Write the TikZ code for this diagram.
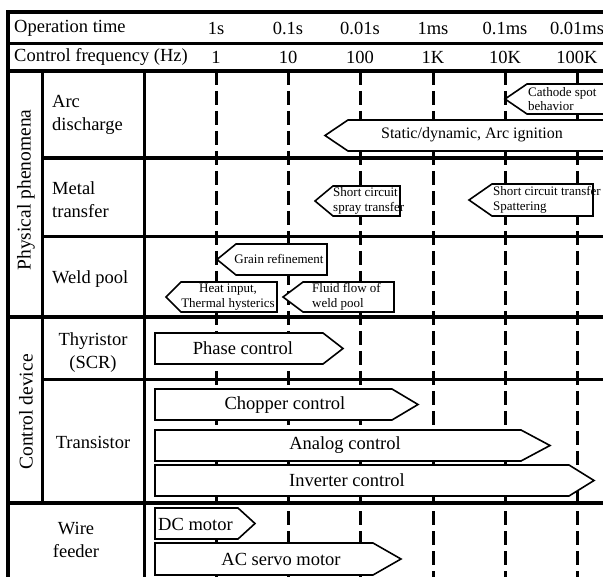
\documentclass[tikz,border=0pt]{standalone}
\usepackage{fontspec}
\setmainfont{Liberation Serif}
\tikzset{
  rulethick/.style = {line width=4pt},
  rule/.style      = {line width=3pt},
  decade/.style    = {line width=3pt, dash pattern=on 14pt off 6pt},
  tagbox/.style    = {draw, fill=white, line width=1.6pt, line join=miter},
  big/.style       = {font=\fontsize{18.5}{23}\selectfont, inner sep=0pt},
  mid/.style       = {font=\fontsize{16}{18}\selectfont, inner sep=0pt},
  small/.style     = {font=\fontsize{13}{14.5}\selectfont, inner sep=0pt, align=left},
  side/.style      = {font=\fontsize{19.5}{22}\selectfont, inner sep=0pt, rotate=90},
}
% tip x, shoulder x, end x, top y, bottom y
\newcommand{\tagleft}[5]{%
  \draw[tagbox] (#1,{(#4+#5)/2}) -- (#2,#4) -- (#3,#4) -- (#3,#5) -- (#2,#5) -- cycle;}
% start x, shoulder x, tip x, top y, bottom y
\newcommand{\tagright}[5]{%
  \draw[tagbox] (#1,#4) -- (#2,#4) -- (#3,{(#4+#5)/2}) -- (#2,#5) -- (#1,#5) -- cycle;}

\begin{document}
\begin{tikzpicture}[x=1pt, y=-1pt]
  \useasboundingbox (0,0) rectangle (603,577);
  \clip (0,0) rectangle (603,577);

  % decade lines
  \foreach \x in {216,288,360,433,505,577}
    \draw[decade] (\x,71) -- (\x,577);

  % table rules
  \draw[rulethick] (603,12) -- (8,12) -- (8,577);
  \draw[rule] (8,44) -- (603,44);
  \draw[rulethick] (8,71) -- (603,71);
  \draw[rule] (42,71) -- (42,503);
  \draw[rule] (144,71) -- (144,577);
  \draw[rulethick] (42,158) -- (603,158);
  \draw[rule] (42,237) -- (603,237);
  \draw[rulethick] (8,317) -- (603,317);
  \draw[rule] (42,380) -- (603,380);
  \draw[rulethick] (8,503) -- (603,503);

  % header
  \node[big, anchor=west] (optime) at (14,28) {Operation time};
  \node[big, anchor=west] (ctrlfreq) at (14,57) {Control frequency (Hz)};
  \foreach \x/\t [count=\i] in {216/1s, 288/0.1s, 360/0.01s, 433/1ms, 505/0.1ms, 577/0.01ms}
    \node[big] (time\i) at (\x,28) {\t};
  \foreach \x/\f [count=\i] in {216/1, 288/10, 360/100, 433/1K, 505/10K, 577/100K}
    \node[big] (freq\i) at (\x,57) {\f};

  % row labels
  \node[side] (phys) at (26,190) {Physical phenomena};
  \node[side] (ctrl) at (26,412) {Control device};
  \node[big, anchor=west, align=left] (arc) at (52,115) {Arc\\discharge};
  \node[big, anchor=west, align=left] (metal) at (52,200) {Metal\\transfer};
  \node[big, anchor=west] (pool) at (52,279) {Weld pool};
  \node[big, align=center] (scr) at (93,353) {Thyristor\\(SCR)};
  \node[big] (transistor) at (93,442) {Transistor};
  \node[big, align=center] (feeder) at (76,540) {Wire\\feeder};

  % physical phenomena
  \tagleft{505}{527}{640}{84}{114}
  \node[small, anchor=west] (cathode) at (528,99) {Cathode spot\\behavior};
  \tagleft{325}{348}{640}{120}{151}
  \node[mid] (ignition) at (472,135) {Static/dynamic, Arc ignition};
  \tagleft{315}{333}{400}{186}{216}
  \node[small, anchor=west] (spray) at (333,201) {Short circuit\\spray transfer};
  \tagleft{469}{492}{593}{184}{216}
  \node[small, anchor=west] (spatter) at (493,200) {Short circuit transfer\\Spattering};
  \tagleft{217}{236}{327}{244}{275}
  \node[small] (grain) at (279,259) {Grain refinement};
  \tagleft{166}{181}{277}{282}{312}
  \node[small, align=center] (heat) at (228,297) {Heat input,\\Thermal hysterics};
  \tagleft{283}{303}{394}{282}{312}
  \node[small, anchor=west] (fluid) at (312,297) {Fluid flow of\\weld pool};

  % control devices
  \tagright{155}{323}{343}{333}{364}
  \node[big] (phase) at (243,348) {Phase control};
  \tagright{155}{392}{418}{389}{420}
  \node[big] (chopper) at (285,405) {Chopper control};
  \tagright{155}{521}{550}{430}{461}
  \node[big] (analog) at (345,445) {Analog control};
  \tagright{155}{569}{594}{465}{496}
  \node[big] (inverter) at (347,480) {Inverter control};

  % wire feeder
  \tagright{155}{238}{255}{508}{539}
  \node[big, anchor=west] (dcmotor) at (158,524) {DC motor};
  \tagright{155}{373}{401}{543}{575}
  \node[big] (servo) at (281,559) {AC servo motor};
\end{tikzpicture}
\end{document}
